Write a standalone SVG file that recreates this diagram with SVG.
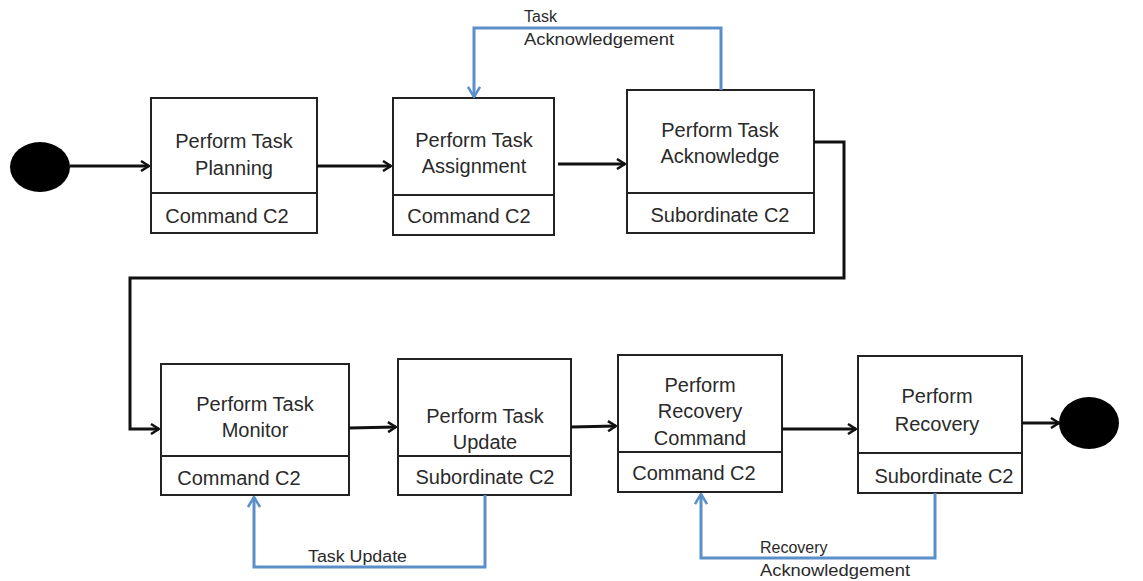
<svg xmlns="http://www.w3.org/2000/svg" width="1143" height="581" viewBox="0 0 1143 581">
<style>
.box{fill:#fff;stroke:#222;stroke-width:2}
.div{stroke:#222;stroke-width:2}
.t{font-family:"Liberation Sans",Arial,sans-serif;font-size:20px;fill:#2a2a2a;text-anchor:middle}
.lbl{font-family:"Liberation Sans",Arial,sans-serif;font-size:16px;fill:#2a2a2a}
.blk{fill:none;stroke:#111;stroke-width:3}
.blu{fill:none;stroke:#5b8fca;stroke-width:3}
</style>
<defs>
<marker id="ab" viewBox="0 0 12 12" refX="11" refY="6" markerWidth="12" markerHeight="12" markerUnits="userSpaceOnUse" orient="auto">
<path d="M3,1 L11,6 L3,11" fill="none" stroke="#111" stroke-width="2.5"/>
</marker>
<marker id="au" viewBox="0 0 14 14" refX="13" refY="7" markerWidth="14" markerHeight="14" markerUnits="userSpaceOnUse" orient="auto">
<path d="M3,1 L13,7 L3,13" fill="none" stroke="#5b8fca" stroke-width="2.5"/>
</marker>
</defs>
<g id="start"><ellipse cx="40" cy="167" rx="30" ry="25" fill="#000"/></g>
<g id="end"><ellipse cx="1089" cy="423" rx="30" ry="26" fill="#000"/></g>
<g id="n1">
<rect class="box" x="151" y="98" width="166" height="135"/>
<line class="div" x1="151" y1="193" x2="317" y2="193"/>
<text class="t" x="234" y="148">Perform Task</text>
<text class="t" x="234" y="175">Planning</text>
<text class="t" x="227" y="223">Command C2</text>
</g>
<g id="n2">
<rect class="box" x="393" y="98" width="161" height="137"/>
<line class="div" x1="393" y1="195" x2="554" y2="195"/>
<text class="t" x="474" y="147">Perform Task</text>
<text class="t" x="474" y="173">Assignment</text>
<text class="t" x="469" y="223">Command C2</text>
</g>
<g id="n3">
<rect class="box" x="627" y="90" width="187" height="143"/>
<line class="div" x1="627" y1="193" x2="814" y2="193"/>
<text class="t" x="720" y="137">Perform Task</text>
<text class="t" x="720" y="163">Acknowledge</text>
<text class="t" x="720" y="222">Subordinate C2</text>
</g>
<g id="n4">
<rect class="box" x="161" y="364" width="188" height="131"/>
<line class="div" x1="161" y1="456" x2="349" y2="456"/>
<text class="t" x="255" y="411">Perform Task</text>
<text class="t" x="255" y="437">Monitor</text>
<text class="t" x="239" y="485">Command C2</text>
</g>
<g id="n5">
<rect class="box" x="398" y="359" width="173" height="136"/>
<line class="div" x1="398" y1="456" x2="571" y2="456"/>
<text class="t" x="485" y="423">Perform Task</text>
<text class="t" x="485" y="449">Update</text>
<text class="t" x="485" y="484">Subordinate C2</text>
</g>
<g id="n6">
<rect class="box" x="618" y="355" width="164" height="137"/>
<line class="div" x1="618" y1="452" x2="782" y2="452"/>
<text class="t" x="700" y="392">Perform</text>
<text class="t" x="700" y="418">Recovery</text>
<text class="t" x="700" y="445">Command</text>
<text class="t" x="694" y="480">Command C2</text>
</g>
<g id="n7">
<rect class="box" x="858" y="356" width="164" height="137"/>
<line class="div" x1="858" y1="453" x2="1022" y2="453"/>
<text class="t" x="937" y="403">Perform</text>
<text class="t" x="937" y="431">Recovery</text>
<text class="t" x="944" y="483">Subordinate C2</text>
</g>
<g id="connectors">
<line class="blk" x1="70" y1="166" x2="149" y2="166" marker-end="url(#ab)"/>
<line class="blk" x1="317" y1="166" x2="391" y2="166" marker-end="url(#ab)"/>
<line class="blk" x1="558" y1="164" x2="625" y2="164" marker-end="url(#ab)"/>
<polyline class="blk" points="814,142 844,142 844,278 130,278 130,429 159,429" marker-end="url(#ab)"/>
<polyline class="blk" points="349,428 396,427" marker-end="url(#ab)"/>
<polyline class="blk" points="571,427 616,426" marker-end="url(#ab)"/>
<line class="blk" x1="782" y1="429" x2="856" y2="429" marker-end="url(#ab)"/>
<line class="blk" x1="1022" y1="423" x2="1059" y2="423" marker-end="url(#ab)"/>
<polyline class="blu" points="721,90 721,28 474,28 474,97" marker-end="url(#au)"/>
<polyline class="blu" points="485,495 485,567 254,567 254,497" marker-end="url(#au)"/>
<polyline class="blu" points="935,493 935,558 701,558 701,494" marker-end="url(#au)"/>
<text class="lbl" x="524" y="22">Task</text>
<text class="lbl" x="524" y="45" textLength="150" lengthAdjust="spacingAndGlyphs">Acknowledgement</text>
<text class="lbl" x="308" y="562" textLength="99" lengthAdjust="spacingAndGlyphs">Task Update</text>
<text class="lbl" x="760" y="553">Recovery</text>
<text class="lbl" x="760" y="576" textLength="150" lengthAdjust="spacingAndGlyphs">Acknowledgement</text>
</g>
</svg>
